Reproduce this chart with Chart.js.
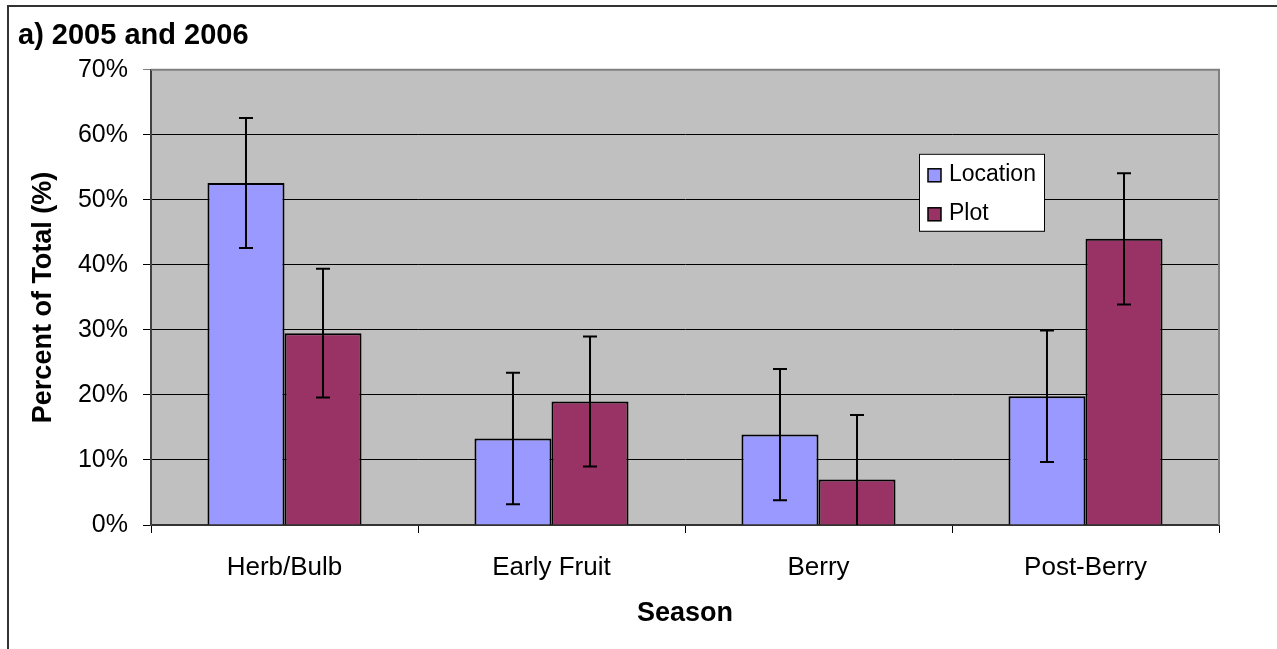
<!DOCTYPE html>
<html>
<head>
<meta charset="utf-8">
<script src="https://cdn.jsdelivr.net/npm/chart.js@4/dist/chart.umd.min.js"></script>
<style>
  html, body { margin: 0; padding: 0; background: #fff; }
  #wrap { width: 1277px; height: 649px; position: relative; }
</style>
</head>
<body>
<div id="wrap"><canvas id="seasonChart"></canvas></div>
<script>
// values (percent of total)
var seasons = ['Herb/Bulb', 'Early Fruit', 'Berry', 'Post-Berry'];
var locationPct = [52.6, 13.3, 13.9, 19.8];
var plotPct = [29.5, 19.0, 7.0, 44.0];
var locationErr = [10.0, 10.1, 10.1, 10.1];
var plotErr = [9.9, 10.0, 9.9, 10.1];
var yMax = 70;
var yStep = 10;

Chart.defaults.font.family = '"Liberation Sans", Arial, sans-serif';
Chart.defaults.color = '#000';

// gray plot area, figure frame, plot border
var backdrop = {
    id: 'backdrop',
    beforeDraw: function(chart) {
        var c = chart.ctx, a = chart.chartArea;
        c.save();
        c.fillStyle = '#c0c0c0';
        c.fillRect(a.left, a.top, a.right - a.left, a.bottom - a.top);
        c.strokeStyle = '#333';
        c.lineWidth = 2;
        c.beginPath();
        c.moveTo(8, chart.height);
        c.lineTo(8, 6);
        c.lineTo(chart.width, 6);
        c.stroke();
        c.restore();
    },
    afterDraw: function(chart) {
        var c = chart.ctx, a = chart.chartArea;
        c.save();
        c.strokeStyle = '#808080';
        c.lineWidth = 2;
        c.beginPath();
        c.moveTo(a.left, a.top);
        c.lineTo(a.right, a.top);
        c.lineTo(a.right, a.bottom);
        c.stroke();
        c.restore();
    }
};

// error bars drawn through the y scale
var errorBars = {
    id: 'errorBars',
    afterDatasetsDraw: function(chart) {
        var c = chart.ctx, y = chart.scales.y;
        var errs = [locationErr, plotErr];
        c.save();
        c.strokeStyle = '#000';
        c.lineWidth = 2;
        chart.data.datasets.forEach(function(ds, i) {
            var meta = chart.getDatasetMeta(i);
            meta.data.forEach(function(bar, j) {
                var v = ds.data[j], e = errs[i][j];
                var hi = y.getPixelForValue(v + e);
                var lo = y.getPixelForValue(Math.max(v - e, 0));
                c.beginPath();
                c.moveTo(bar.x, hi);
                c.lineTo(bar.x, lo);
                c.moveTo(bar.x - 7, hi);
                c.lineTo(bar.x + 7, hi);
                if (v - e > 0) {
                    c.moveTo(bar.x - 7, lo);
                    c.lineTo(bar.x + 7, lo);
                }
                c.stroke();
            });
        });
        c.restore();
    }
};

// boxed legend inside the plot area
var boxLegend = {
    id: 'boxLegend',
    afterDraw: function(chart) {
        var c = chart.ctx, a = chart.chartArea;
        var x0 = a.left + 768, y0 = a.top + 84;
        c.save();
        c.fillStyle = '#fff';
        c.fillRect(x0, y0, 125, 77);
        c.strokeStyle = '#000';
        c.lineWidth = 1;
        c.strokeRect(x0 + 0.5, y0 + 0.5, 125, 77);
        c.font = '23px "Liberation Sans", Arial, sans-serif';
        c.textBaseline = 'middle';
        chart.data.datasets.forEach(function(ds, i) {
            var cy = y0 + 21 + i * 39;
            c.fillStyle = ds.backgroundColor;
            c.fillRect(x0 + 9, cy - 6, 13, 13);
            c.lineWidth = 1.5;
            c.strokeRect(x0 + 9, cy - 6, 13, 13);
            c.fillStyle = '#000';
            c.fillText(ds.label, x0 + 30, cy);
        });
        c.restore();
    }
};

var ctx = document.getElementById('seasonChart');
var myChart = new Chart(ctx, {
    type: 'bar',
    data: {
        labels: seasons,
        datasets: [{
            label: 'Location',
            data: locationPct,
            backgroundColor: '#9999ff',
            borderColor: '#000',
            borderWidth: 2
        }, {
            label: 'Plot',
            data: plotPct,
            backgroundColor: '#993366',
            borderColor: '#000',
            borderWidth: 2
        }]
    },
    options: {
        responsive: true,
        maintainAspectRatio: false,
        animation: false,
        datasets: {
            bar: { categoryPercentage: 0.577, barPercentage: 1.0 }
        },
        layout: { padding: { left: 18, right: 58, top: 0, bottom: 0 } },
        plugins: {
            legend: { display: false },
            tooltip: { enabled: false },
            title: {
                display: true,
                text: 'a) 2005 and 2006',
                align: 'start',
                color: '#000',
                font: { size: 29, weight: 'bold' },
                padding: { top: 19, bottom: 16 }
            }
        },
        scales: {
            x: {
                afterFit: function(s) { s.height = 124; },
                grid: {
                    offset: true,
                    drawOnChartArea: false,
                    tickLength: 8,
                    color: '#000'
                },
                border: { color: '#333', width: 2 },
                ticks: { font: { size: 26 }, padding: 19, color: '#000' },
                title: {
                    display: true,
                    text: 'Season',
                    color: '#000',
                    font: { size: 27, weight: 'bold' },
                    padding: { top: 19, bottom: 19 }
                }
            },
            y: {
                min: 0,
                max: yMax,
                afterFit: function(s) { s.width = 133; },
                grid: {
                    color: function(c) { return c.tick && c.tick.value === yMax ? '#808080' : '#000'; },
                    lineWidth: 1,
                    tickLength: 8
                },
                border: { color: '#404040', width: 2 },
                ticks: {
                    stepSize: yStep,
                    font: { size: 25 },
                    padding: 15,
                    color: '#000',
                    callback: function(v) { return v + '%'; }
                },
                title: {
                    display: true,
                    text: 'Percent of Total (%)',
                    color: '#000',
                    font: { size: 27, weight: 'bold' },
                    padding: { top: 9, bottom: 9 }
                }
            }
        }
    },
    plugins: [backdrop, errorBars, boxLegend]
});
</script>
</body>
</html>
